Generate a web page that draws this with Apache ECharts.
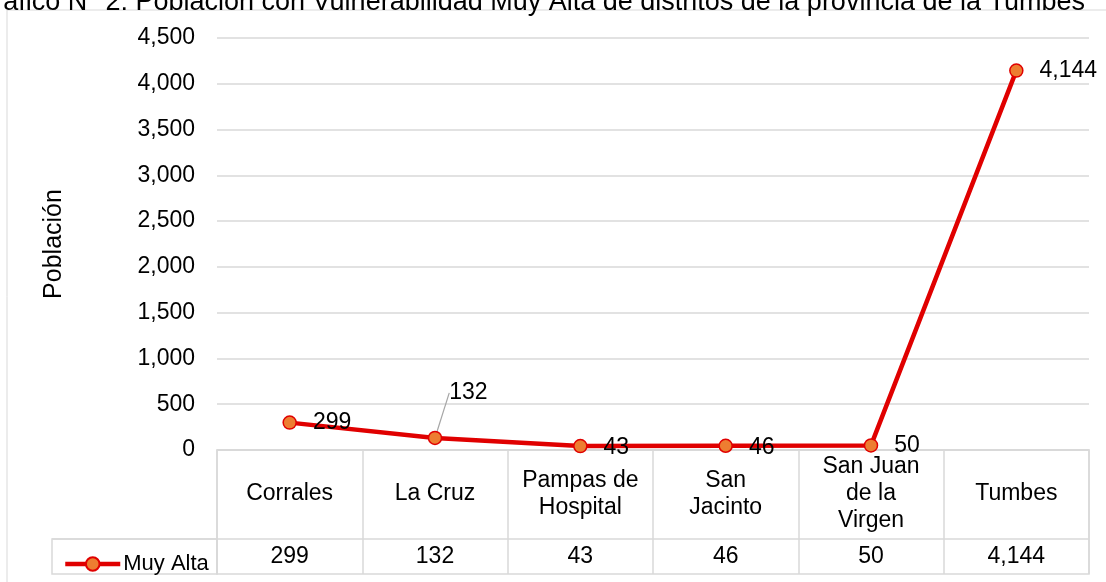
<!DOCTYPE html>
<html>
<head>
<meta charset="utf-8">
<script src="https://cdn.jsdelivr.net/npm/echarts@6/dist/echarts.min.js"></script>
<style>
  html, body { margin: 0; padding: 0; background: #fff; }
  #chart { width: 1106px; height: 582px; }
</style>
</head>
<body>
<div id="chart"></div>
<script>
// Values.
var categories = ['Corrales', 'La Cruz', 'Pampas de\nHospital', 'San\nJacinto', 'San Juan\nde la\nVirgen', 'Tumbes'];
var muyAlta = [299, 132, 43, 46, 50, 4144];
var seriesName = 'Muy Alta';
var yMin = 0, yMax = 4500, yStep = 500;

var FONT = "'Liberation Sans', Arial, sans-serif";
var GRID_COLOR = '#d9d9d9';
var FS = 23;
var fmt = function (v) { return Number(v).toLocaleString('en-US'); };

var chart = echarts.init(document.getElementById('chart'), null, {
  width: 1106,
  height: 582,
});

var seriesData = muyAlta.map(function (v, i) {
  if (i === 1) {
    return {
      value: v,
      labelLine: { show: true, lineStyle: { color: '#a6a6a6', width: 1.2 } },
    };
  }
  return v;
});

var option = {
  animation: false,
  textStyle: { fontFamily: FONT },
  graphic: [
    {
      type: 'rect',
      shape: { x: 7, y: 10, width: 1200, height: 700 },
      style: { fill: 'none', stroke: GRID_COLOR, lineWidth: 1 },
      silent: true,
    },
    {
      type: 'text',
      x: 1085,
      y: 16,
      style: {
        text: 'Gráfico N° 2: Población con Vulnerabilidad Muy Alta de distritos de la provincia de la Tumbes',
        font: '27px ' + FONT,
        fill: '#000',
        textAlign: 'right',
        textVerticalAlign: 'bottom',
      },
    },
    // table: row separator and legend cell
    {
      type: 'line',
      shape: { x1: 52, y1: 539, x2: 1089, y2: 539 },
      style: { stroke: GRID_COLOR, lineWidth: 1.5 },
      silent: true,
    },
    {
      type: 'rect',
      shape: { x: 52, y: 539, width: 165, height: 35 },
      style: { fill: 'none', stroke: GRID_COLOR, lineWidth: 1.5 },
      silent: true,
    },
  ],
  legend: {
    left: 58,
    top: 548,
    itemWidth: 55,
    itemHeight: 17,
    itemGap: 4,
    data: [seriesName],
    lineStyle: { width: 4.5, color: '#e00000' },
    textStyle: { fontSize: 22, color: '#000', fontFamily: FONT, padding: [0, 0, 0, -2] },
  },
  grid: [
    { left: 217, right: 17, top: 38, bottom: 132 },
    {
      left: 217, right: 17, top: 450, bottom: 8,
      show: true, borderColor: GRID_COLOR, borderWidth: 1.5,
    },
  ],
  xAxis: [
    {
      type: 'category',
      gridIndex: 0,
      data: categories,
      boundaryGap: true,
      axisLine: { show: true, lineStyle: { color: GRID_COLOR, width: 1.5 } },
      axisTick: { show: false },
      axisLabel: {
        interval: 0,
        margin: 44,
        verticalAlign: 'middle',
        fontSize: FS,
        lineHeight: 27,
        color: '#000',
        fontFamily: FONT,
      },
    },
    {
      type: 'category',
      gridIndex: 1,
      data: categories,
      boundaryGap: true,
      axisLine: { show: false },
      axisTick: { show: false },
      splitLine: { show: true, interval: 0, lineStyle: { color: GRID_COLOR, width: 1.5 } },
      axisLabel: {
        interval: 0,
        margin: -17,
        verticalAlign: 'middle',
        fontSize: FS,
        color: '#000',
        fontFamily: FONT,
        formatter: function (val, idx) { return fmt(muyAlta[idx]); },
      },
    },
  ],
  yAxis: [
    {
      type: 'value',
      gridIndex: 0,
      min: yMin,
      max: yMax,
      interval: yStep,
      name: 'Población',
      nameLocation: 'middle',
      nameGap: 150,
      nameTextStyle: { fontSize: 25, color: '#000', fontFamily: FONT },
      axisLine: { show: false },
      axisTick: { show: false },
      splitLine: { lineStyle: { color: GRID_COLOR, width: 1.5 } },
      axisLabel: {
        margin: 22,
        fontSize: FS,
        color: '#000',
        fontFamily: FONT,
        formatter: fmt,
      },
    },
    { type: 'value', gridIndex: 1, show: false },
  ],
  series: [{
    name: seriesName,
    type: 'line',
    xAxisIndex: 0,
    yAxisIndex: 0,
    data: seriesData,
    symbol: 'circle',
    symbolSize: 13,
    lineStyle: { color: '#e00000', width: 4.5 },
    itemStyle: { color: '#ed7d31', borderColor: '#e00000', borderWidth: 1.5 },
    label: {
      show: true,
      position: 'right',
      distance: 16,
      fontSize: FS,
      color: '#000',
      fontFamily: FONT,
      formatter: function (p) { return fmt(p.value); },
    },
    labelLayout: function (params) {
      if (params.dataIndex === 1) {
        return { dx: -9, dy: -45 };
      }
      if (params.dataIndex === 2 || params.dataIndex === 3) {
        return { dy: 2 };
      }
      return {};
    },
  }],
};

chart.setOption(option);
</script>
</body>
</html>
